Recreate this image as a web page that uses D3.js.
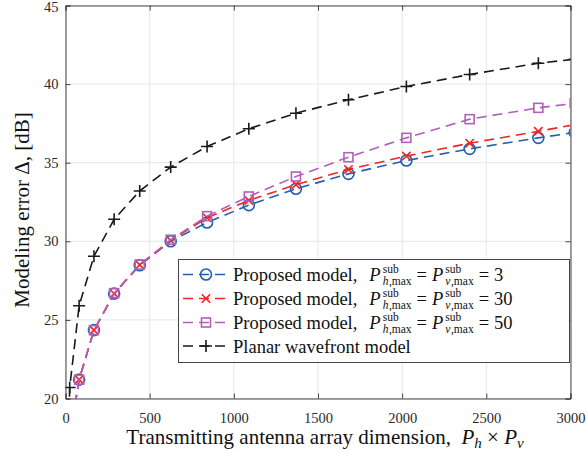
<!DOCTYPE html>
<html><head><meta charset="utf-8">
<script src="https://cdn.jsdelivr.net/npm/d3@7/dist/d3.min.js"></script>
<style>body{margin:0;background:#fff}svg{display:block}</style>
</head><body><svg id="c" width="586" height="453"></svg>
<script>
const xProposed = [25, 81, 169, 289, 441, 625, 841, 1089, 1369, 1681, 2025, 2401, 2809, 3025];
const blueVals   = [17.6, 21.2, 24.35, 26.67, 28.48, 30.0, 31.2, 32.3, 33.34, 34.29, 35.14, 35.88, 36.58, 36.92];
const redVals    = [17.6, 21.2, 24.35, 26.67, 28.5, 30.05, 31.5, 32.6, 33.6, 34.57, 35.42, 36.24, 37.0, 37.42];
const purpleVals = [17.6, 21.2, 24.35, 26.7, 28.52, 30.1, 31.6, 32.85, 34.12, 35.35, 36.58, 37.77, 38.49, 38.78];
const xPlanar = [9, 25, 81, 169, 289, 441, 625, 841, 1089, 1369, 1681, 2025, 2401, 2809, 3025];
const planarVals = [14, 20.7, 25.9, 29.05, 31.4, 33.2, 34.72, 36.03, 37.16, 38.15, 39.0, 39.85, 40.61, 41.33, 41.58];
const xTicks = [0, 500, 1000, 1500, 2000, 2500, 3000];
const yTicks = [20, 25, 30, 35, 40, 45];
const legendValues = [3, 30, 50];

const svg = d3.select("#c");
const L = 65.5, R = 570.5, T = 5.5, B = 398.5;
const x = d3.scaleLinear().domain([0, 3000]).range([L, R]);
const y = d3.scaleLinear().domain([20, 45]).range([B, T]);
const serif = "'Liberation Serif', 'Times New Roman', serif";
const axisCol = "#444";

svg.append("defs").append("clipPath").attr("id", "clip")
  .append("rect").attr("x", L).attr("y", T).attr("width", R - L).attr("height", B - T);

// grid
const grid = svg.append("g");
grid.selectAll(".gx").data(xTicks).join("line")
  .attr("x1", d => x(d)).attr("x2", d => x(d)).attr("y1", T).attr("y2", B)
  .attr("stroke", "#e6e6e6").attr("stroke-width", 1);
grid.selectAll(".gy").data(yTicks).join("line")
  .attr("y1", d => y(d)).attr("y2", d => y(d)).attr("x1", L).attr("x2", R)
  .attr("stroke", "#e6e6e6").attr("stroke-width", 1);

// axes
const tickLen = 5;
const xb = svg.append("g").attr("transform", `translate(0,${B})`)
  .call(d3.axisBottom(x).tickValues(xTicks).tickSize(-tickLen).tickPadding(14).tickFormat(d3.format("d")));
const yl = svg.append("g").attr("transform", `translate(${L},0)`)
  .call(d3.axisLeft(y).tickValues(yTicks).tickSize(-tickLen).tickPadding(7));
const xt = svg.append("g").attr("transform", `translate(0,${T})`)
  .call(d3.axisTop(x).tickValues(xTicks).tickSize(-tickLen).tickFormat(""));
const yr = svg.append("g").attr("transform", `translate(${R},0)`)
  .call(d3.axisRight(y).tickValues(yTicks).tickSize(-tickLen).tickFormat(""));
[xb, yl, xt, yr].forEach(g => {
  g.select(".domain").attr("stroke", axisCol).attr("stroke-width", 1);
  g.selectAll(".tick line").attr("stroke", axisCol);
  g.selectAll(".tick text").attr("fill", "#2a2a2a").style("font-family", serif).style("font-size", "14.5px");
});
yl.selectAll(".tick text").filter(d => d === 45).attr("dy", "0.4em");

// series
const series = [
  {xs: xProposed, vals: blueVals, color: "#2060b0", marker: "circle"},
  {xs: xProposed, vals: redVals, color: "#f02424", marker: "x"},
  {xs: xProposed, vals: purpleVals, color: "#b060b8", marker: "square"},
  {xs: xPlanar, vals: planarVals, color: "#1a1a1a", marker: "plus"}
];
const line = d3.line().x(d => x(d[0])).y(d => y(d[1]));
const plot = svg.append("g").attr("clip-path", "url(#clip)");

function drawMarker(g, type, cx, cy, color) {
  if (type === "circle") {
    g.append("circle").attr("cx", cx).attr("cy", cy).attr("r", 5.5)
      .attr("fill", "none").attr("stroke", color).attr("stroke-width", 1.6);
  } else if (type === "x") {
    const s = 4.2;
    g.append("path").attr("d", `M${cx-s},${cy-s}L${cx+s},${cy+s}M${cx-s},${cy+s}L${cx+s},${cy-s}`)
      .attr("stroke", color).attr("stroke-width", 1.6).attr("fill", "none");
  } else if (type === "square") {
    const s = 4.5;
    g.append("rect").attr("x", cx - s).attr("y", cy - s).attr("width", 2*s).attr("height", 2*s)
      .attr("fill", "none").attr("stroke", color).attr("stroke-width", 1.6);
  } else if (type === "plus") {
    const s = 6;
    g.append("path").attr("d", `M${cx-s},${cy}L${cx+s},${cy}M${cx},${cy-s}L${cx},${cy+s}`)
      .attr("stroke", color).attr("stroke-width", 1.6).attr("fill", "none");
  }
}

series.forEach(s => {
  const pts = s.xs.map((xv, i) => [xv, s.vals[i]]);
  plot.append("path").datum(pts).attr("d", line)
    .attr("fill", "none").attr("stroke", s.color).attr("stroke-width", 1.6)
    .attr("stroke-dasharray", "10,6");
  const mg = plot.append("g");
  pts.forEach(p => drawMarker(mg, s.marker, x(p[0]), y(p[1]), s.color));
});

// axis labels
svg.append("text").attr("x", 325).attr("y", 444).attr("text-anchor", "middle")
  .style("font-family", serif).style("font-size", "21px").attr("fill", "#111")
  .html("Transmitting antenna array dimension,&#160;&#160;<tspan font-style='italic'>P</tspan><tspan font-style='italic' font-size='15px' dy='4'>h</tspan><tspan dy='-4'> × </tspan><tspan font-style='italic'>P</tspan><tspan font-style='italic' font-size='15px' dy='4'>v</tspan>");
svg.append("text").attr("transform", `translate(29,${210}) rotate(-90)`).attr("text-anchor", "middle")
  .style("font-family", serif).style("font-size", "21px").attr("fill", "#111")
  .text("Modeling error  Δ, [dB]");

// legend
const lg = svg.append("g");
const lx = 178.5, ly = 259.5, lw = 391, lh = 103;
lg.append("rect").attr("x", lx).attr("y", ly).attr("width", lw).attr("height", lh)
  .attr("fill", "#fff").attr("stroke", axisCol).attr("stroke-width", 1);
const rowY = [274.5, 298.5, 322.5, 346];
const fs = 18.5, ss = 11.5;

function piece(g, cx, by, str, opts = {}) {
  const t = g.append("text").attr("x", cx).attr("y", by)
    .style("font-family", serif).style("font-size", (opts.size || fs) + "px")
    .style("font-style", opts.italic ? "italic" : "normal").attr("fill", "#111").text(str);
  return t.node().getComputedTextLength();
}
function stacked(g, cx, by, supStr, subIt, subRest) {
  const w1 = piece(g, cx, by - 8.5, supStr, {size: ss});
  let w2 = piece(g, cx, by + 4, subIt, {size: ss, italic: true});
  w2 += piece(g, cx + w2 + 0.5, by + 4, subRest, {size: ss}) + 0.5;
  return Math.max(w1, w2);
}

series.forEach((s, i) => {
  const cy = rowY[i];
  lg.append("line").attr("x1", 183).attr("x2", 229).attr("y1", cy).attr("y2", cy)
    .attr("stroke", s.color).attr("stroke-width", 1.6).attr("stroke-dasharray", "10,6");
  drawMarker(lg, s.marker, 206, cy, s.color);
  const by = cy + 6.5;
  let cx = 233;
  if (i < 3) {
    cx += piece(lg, cx, by, "Proposed model,");
    cx += 12;
    cx += piece(lg, cx, by, "P", {italic: true});
    cx += 2;
    cx += stacked(lg, cx, by, "sub", "h", ",max");
    cx += 5;
    cx += piece(lg, cx, by, "=");
    cx += 5;
    cx += piece(lg, cx, by, "P", {italic: true});
    cx += 2;
    cx += stacked(lg, cx, by, "sub", "v", ",max");
    cx += 5;
    cx += piece(lg, cx, by, "=");
    cx += 5;
    piece(lg, cx, by, String(legendValues[i]));
  } else {
    piece(lg, cx, by, "Planar wavefront model");
  }
});
</script></body></html>
